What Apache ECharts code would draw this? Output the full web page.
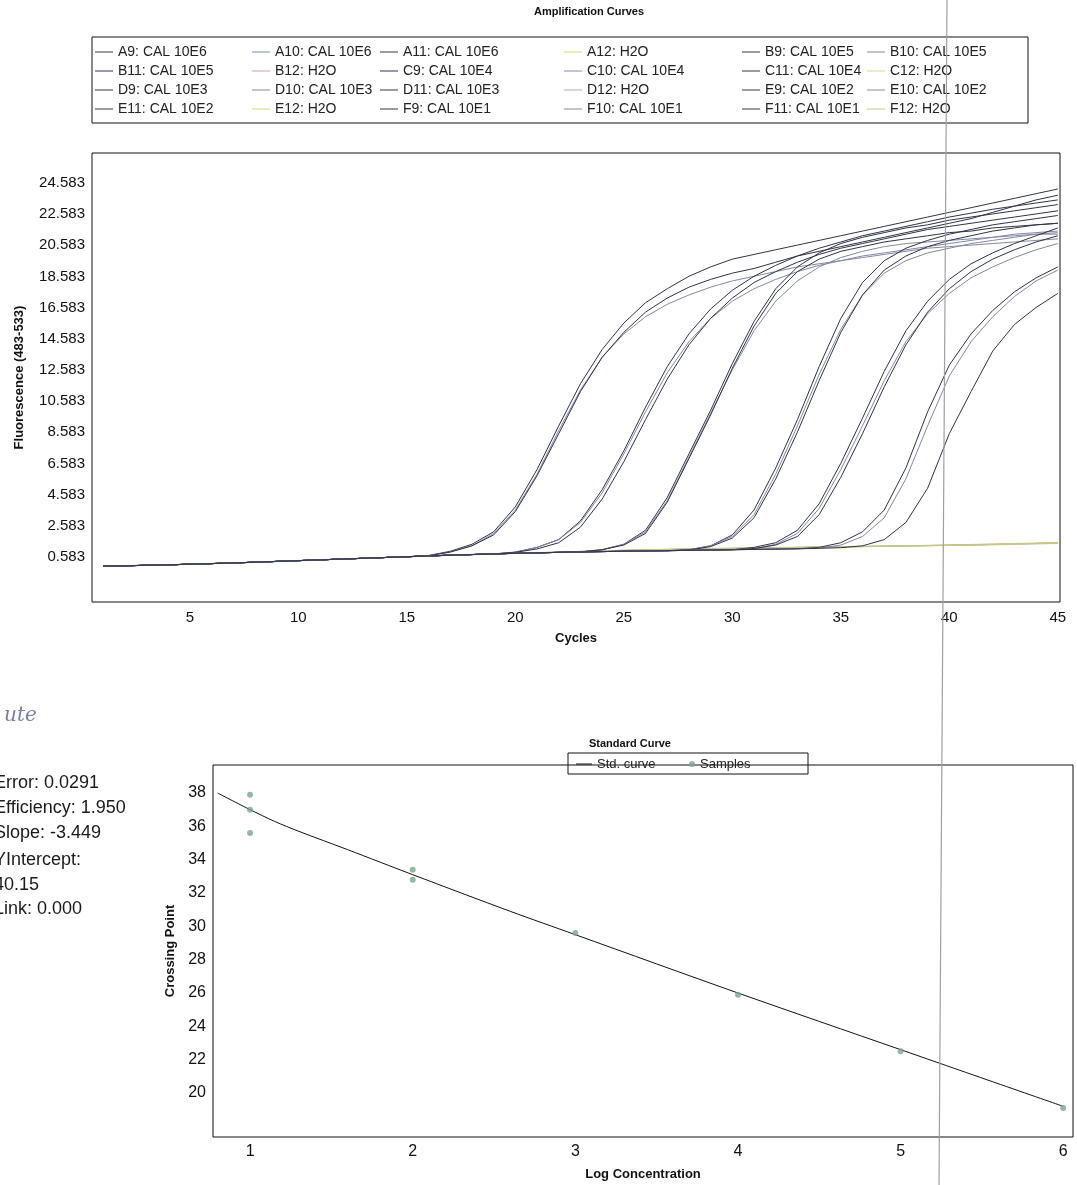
<!DOCTYPE html>
<html>
<head>
<meta charset="utf-8">
<title>Amplification Curves / Standard Curve</title>
<script src="https://cdn.jsdelivr.net/npm/echarts@6/dist/echarts.min.js"></script>
<style>
    html, body { margin: 0; padding: 0; background: #fff; }
    #chart { width: 1077px; height: 1185px; }
</style>
</head>
<body>
<div id="chart"></div>
<script>
// ---- amplification data (fluorescence 483-533 per cycle) ----
var cycles = [1,2,3,4,5,6,7,8,9,10,11,12,13,14,15,16,17,18,19,20,21,22,23,24,25,26,27,28,29,30,31,32,33,34,35,36,37,38,39,40,41,42,43,44,45];

var A9  = [0.00,0.02,0.05,0.08,0.12, 0.16,0.20,0.25,0.30,0.35, 0.40,0.45,0.50,0.55,0.60, 0.68,0.95,1.40,2.20,3.80, 6.20,9.00,11.70,13.90,15.60, 16.90,17.80,18.60,19.20,19.70, 20.00,20.30,20.60,20.90,21.20, 21.50,21.80,22.10,22.40,22.70, 23.00,23.30,23.60,23.90,24.20];
var A10 = [0.00,0.02,0.05,0.08,0.12, 0.16,0.20,0.25,0.30,0.35, 0.40,0.45,0.50,0.55,0.60, 0.66,0.90,1.30,2.10,3.60, 5.90,8.70,11.30,13.40,14.90, 16.00,16.80,17.40,17.90,18.30, 18.60,18.90,19.20,19.40,19.60, 19.80,20.00,20.20,20.40,20.50, 20.60,20.70,20.80,20.90,21.00];
var A11 = [0.00,0.02,0.05,0.08,0.12, 0.16,0.20,0.25,0.30,0.35, 0.40,0.45,0.50,0.55,0.60, 0.66,0.90,1.30,2.00,3.50, 5.80,8.50,11.20,13.40,15.00, 16.30,17.20,17.90,18.40,18.80, 19.10,19.50,19.90,20.20,20.50, 20.80,21.10,21.40,21.70,22.00, 22.30,22.70,23.10,23.50,23.80];
var A12 = [0.00,0.03,0.05,0.09,0.12, 0.17,0.21,0.25,0.31,0.35, 0.41,0.45,0.51,0.55,0.61, 0.65,0.71,0.74,0.79,0.82, 0.86,0.90,0.94,0.98,1.02, 1.05,1.08,1.10,1.13,1.15, 1.17,1.19,1.21,1.23,1.25, 1.27,1.29,1.31,1.33,1.36, 1.39,1.42,1.45,1.48,1.52];

var B9  = [0.00,0.02,0.05,0.08,0.12, 0.16,0.20,0.25,0.30,0.35, 0.40,0.45,0.50,0.55,0.60, 0.65,0.70,0.74,0.78,0.90, 1.20,1.70,2.90,4.90,7.40, 10.20,12.80,14.90,16.50,17.70, 18.60,19.30,19.90,20.40,20.80, 21.20,21.50,21.80,22.10,22.40, 22.65,22.90,23.10,23.30,23.50];
var B10 = [0.00,0.02,0.05,0.08,0.12, 0.16,0.20,0.25,0.30,0.35, 0.40,0.45,0.50,0.55,0.60, 0.65,0.70,0.74,0.78,0.88, 1.20,1.70,2.80,4.70,7.20, 9.90,12.40,14.40,15.90,17.00, 17.80,18.40,18.90,19.30,19.60, 19.90,20.10,20.30,20.50,20.70, 20.90,21.10,21.30,21.40,21.50];
var B11 = [0.00,0.02,0.05,0.08,0.12, 0.16,0.20,0.25,0.30,0.35, 0.40,0.45,0.50,0.55,0.60, 0.65,0.70,0.74,0.78,0.88, 1.10,1.50,2.50,4.30,6.70, 9.40,12.00,14.20,15.90,17.20, 18.20,18.90,19.50,20.00,20.40, 20.70,21.00,21.30,21.60,21.80, 22.00,22.20,22.40,22.60,22.80];
var B12 = [0.01,0.02,0.06,0.08,0.13, 0.16,0.21,0.25,0.29,0.35, 0.39,0.45,0.49,0.55,0.59, 0.65,0.69,0.74,0.77,0.82, 0.85,0.89,0.93,0.97,1.00, 1.03,1.06,1.09,1.11,1.13, 1.15,1.17,1.19,1.21,1.23, 1.25,1.27,1.29,1.31,1.33, 1.35,1.38,1.41,1.44,1.47];

var C9  = [0.00,0.02,0.05,0.08,0.12, 0.16,0.20,0.25,0.30,0.35, 0.40,0.45,0.50,0.55,0.60, 0.65,0.70,0.74,0.78,0.82, 0.85,0.88,0.91,1.05,1.40, 2.30,4.40,7.20,10.00,13.00, 15.70,17.80,19.20,20.10,20.70, 21.10,21.40,21.70,21.90,22.20, 22.40,22.60,22.80,23.00,23.20];
var C10 = [0.00,0.02,0.05,0.08,0.12, 0.16,0.20,0.25,0.30,0.35, 0.40,0.45,0.50,0.55,0.60, 0.65,0.70,0.74,0.78,0.82, 0.85,0.88,0.91,1.05,1.40, 2.20,4.20,7.00,9.80,12.60, 15.10,17.00,18.30,19.20,19.80, 20.20,20.50,20.70,20.80,20.90, 21.00,21.10,21.20,21.30,21.30];
var C11 = [0.00,0.02,0.05,0.08,0.12, 0.16,0.20,0.25,0.30,0.35, 0.40,0.45,0.50,0.55,0.60, 0.65,0.70,0.74,0.78,0.82, 0.85,0.88,0.91,1.05,1.35, 2.10,4.10,6.90,9.70,12.70, 15.40,17.50,18.90,19.70,20.20, 20.50,20.80,21.00,21.20,21.40, 21.50,21.70,21.80,21.90,22.00];
var C12 = [0.00,0.02,0.04,0.08,0.11, 0.16,0.19,0.25,0.29,0.35, 0.39,0.45,0.49,0.55,0.59, 0.64,0.69,0.73,0.77,0.81, 0.85,0.89,0.92,0.96,0.99, 1.02,1.05,1.08,1.10,1.12, 1.14,1.16,1.18,1.20,1.22, 1.24,1.26,1.28,1.30,1.32, 1.34,1.36,1.39,1.42,1.45];

var D9  = [0.00,0.02,0.05,0.08,0.12, 0.16,0.20,0.25,0.30,0.35, 0.40,0.45,0.50,0.55,0.60, 0.65,0.70,0.74,0.78,0.82, 0.85,0.88,0.91,0.93,0.95, 0.97,0.99,1.05,1.30,2.00, 3.60,6.30,9.40,12.80,15.90, 18.20,19.60,20.40,20.90,21.30, 21.60,21.90,22.10,22.30,22.50];
var D10 = [0.00,0.02,0.05,0.08,0.12, 0.16,0.20,0.25,0.30,0.35, 0.40,0.45,0.50,0.55,0.60, 0.65,0.70,0.74,0.78,0.82, 0.85,0.88,0.91,0.93,0.95, 0.97,0.99,1.04,1.30,1.90, 3.30,5.90,9.00,12.30,15.20, 17.40,18.80,19.60,20.10,20.40, 20.70,20.90,21.10,21.30,21.40];
var D11 = [0.00,0.02,0.05,0.08,0.12, 0.16,0.20,0.25,0.30,0.35, 0.40,0.45,0.50,0.55,0.60, 0.65,0.70,0.74,0.78,0.82, 0.85,0.88,0.91,0.93,0.95, 0.97,0.99,1.03,1.25,1.80, 3.10,5.60,8.60,11.90,15.00, 17.40,19.00,19.90,20.50,20.90, 21.20,21.50,21.70,21.90,22.00];
var D12 = [0.01,0.03,0.05,0.09,0.12, 0.17,0.20,0.26,0.30,0.36, 0.40,0.46,0.50,0.56,0.60, 0.66,0.70,0.75,0.78,0.83, 0.86,0.90,0.94,0.98,1.01, 1.04,1.07,1.10,1.12,1.14, 1.16,1.18,1.20,1.22,1.24, 1.26,1.28,1.30,1.32,1.34, 1.36,1.39,1.42,1.45,1.49];

var E9  = [0.00,0.02,0.05,0.08,0.12, 0.16,0.20,0.25,0.30,0.35, 0.40,0.45,0.50,0.55,0.60, 0.65,0.70,0.74,0.78,0.82, 0.85,0.88,0.91,0.93,0.95, 0.97,0.99,1.01,1.03,1.05, 1.20,1.50,2.30,4.00,6.60, 9.50,12.50,15.10,17.00,18.40, 19.40,20.10,20.70,21.20,21.70];
var E10 = [0.00,0.02,0.05,0.08,0.12, 0.16,0.20,0.25,0.30,0.35, 0.40,0.45,0.50,0.55,0.60, 0.65,0.70,0.74,0.78,0.82, 0.85,0.88,0.91,0.93,0.95, 0.97,0.99,1.01,1.03,1.05, 1.12,1.40,2.10,3.70,6.20, 9.00,11.90,14.40,16.20,17.50, 18.50,19.20,19.80,20.30,20.70];
var E11 = [0.00,0.02,0.05,0.08,0.12, 0.16,0.20,0.25,0.30,0.35, 0.40,0.45,0.50,0.55,0.60, 0.65,0.70,0.74,0.78,0.82, 0.85,0.88,0.91,0.93,0.95, 0.97,0.99,1.01,1.03,1.05, 1.12,1.35,1.90,3.30,5.70, 8.50,11.50,14.20,16.30,17.80, 18.90,19.70,20.30,20.80,21.20];
var E12 = [0.00,0.02,0.05,0.07,0.12, 0.15,0.20,0.24,0.30,0.34, 0.40,0.44,0.50,0.54,0.60, 0.64,0.70,0.73,0.78,0.81, 0.85,0.89,0.93,0.97,1.00, 1.03,1.06,1.09,1.11,1.13, 1.15,1.17,1.19,1.21,1.23, 1.25,1.27,1.29,1.31,1.33, 1.36,1.39,1.42,1.46,1.50];

var F9  = [0.00,0.02,0.05,0.08,0.12, 0.16,0.20,0.25,0.30,0.35, 0.40,0.45,0.50,0.55,0.60, 0.65,0.70,0.74,0.78,0.82, 0.85,0.88,0.91,0.93,0.95, 0.97,0.99,1.01,1.03,1.05, 1.07,1.09,1.11,1.20,1.50, 2.20,3.60,6.30,9.90,12.90, 14.90,16.40,17.60,18.50,19.20];
var F10 = [0.00,0.02,0.05,0.08,0.12, 0.16,0.20,0.25,0.30,0.35, 0.40,0.45,0.50,0.55,0.60, 0.65,0.70,0.74,0.78,0.82, 0.85,0.88,0.91,0.93,0.95, 0.97,0.99,1.01,1.03,1.05, 1.07,1.09,1.11,1.15,1.35, 1.90,3.10,5.60,9.00,12.20, 14.40,16.00,17.30,18.30,19.00];
var F11 = [0.00,0.02,0.05,0.08,0.12, 0.16,0.20,0.25,0.30,0.35, 0.40,0.45,0.50,0.55,0.60, 0.65,0.70,0.74,0.78,0.82, 0.85,0.88,0.91,0.93,0.95, 0.97,0.99,1.01,1.03,1.05, 1.07,1.09,1.11,1.14,1.18, 1.30,1.70,2.80,5.00,8.50, 11.20,13.80,15.50,16.60,17.50];
var F12 = [0.01,0.02,0.05,0.08,0.12, 0.16,0.21,0.25,0.30,0.35, 0.41,0.45,0.50,0.55,0.61, 0.65,0.70,0.75,0.78,0.83, 0.86,0.90,0.94,0.97,1.01, 1.04,1.07,1.09,1.12,1.14, 1.16,1.18,1.20,1.22,1.24, 1.26,1.28,1.30,1.32,1.35, 1.38,1.40,1.43,1.46,1.50];

var sampleNames = [
    'A9: CAL 10E6', 'A10: CAL 10E6', 'A11: CAL 10E6', 'A12: H2O', 'B9: CAL 10E5', 'B10: CAL 10E5',
    'B11: CAL 10E5', 'B12: H2O', 'C9: CAL 10E4', 'C10: CAL 10E4', 'C11: CAL 10E4', 'C12: H2O',
    'D9: CAL 10E3', 'D10: CAL 10E3', 'D11: CAL 10E3', 'D12: H2O', 'E9: CAL 10E2', 'E10: CAL 10E2',
    'E11: CAL 10E2', 'E12: H2O', 'F9: CAL 10E1', 'F10: CAL 10E1', 'F11: CAL 10E1', 'F12: H2O'
];
var sampleValues = [A9, A10, A11, A12, B9, B10, B11, B12, C9, C10, C11, C12,
                    D9, D10, D11, D12, E9, E10, E11, E12, F9, F10, F11, F12];

var cycleTicks = [5, 10, 15, 20, 25, 30, 35, 40, 45];
var fluorTicks = [0.583, 2.583, 4.583, 6.583, 8.583, 10.583, 12.583, 14.583, 16.583, 18.583, 20.583, 22.583, 24.583];

// ---- standard curve data ----
var stdLogConc = [0.8, 1.0, 1.15, 1.3, 1.6, 2.0, 2.6, 3.0, 4.0, 5.0, 6.0];
var stdCp      = [38.0, 37.0, 36.3, 35.7, 34.6, 33.1, 30.9, 29.5, 26.0, 22.6, 19.2];
var sampleLogConc = [1, 1, 1, 2, 2, 3, 4, 5, 6];
var sampleCp      = [37.9, 37.0, 35.6, 33.4, 32.8, 29.6, 25.9, 22.5, 19.1];
var logTicks = [1, 2, 3, 4, 5, 6];
var cpTicks = [20, 22, 24, 26, 28, 30, 32, 34, 36, 38];

var statLines = ['Error: 0.0291', 'Efficiency: 1.950', 'Slope: -3.449', 'YIntercept:', '40.15', 'Link: 0.000'];

// ---- styling ----
var FONT = '"Liberation Sans", Arial, sans-serif';
var DARK = '#30344a';
var LIGHT = '#8389a4';
var waterColors = ['#d3d67a', '#c8a0a6', '#d8da8c', '#c7a29e', '#cdd47c', '#c2c78c'];

function colorFor(i) {
    if (i % 4 === 3) return waterColors[Math.floor(i / 4)];
    return (i % 4 === 1) ? LIGHT : DARK;
}

var chart = echarts.init(document.getElementById('chart'));

var series = sampleNames.map(function (name, i) {
    return {
        name: name,
        type: 'line',
        xAxisIndex: 0,
        yAxisIndex: 0,
        symbol: 'none',
        z: (i % 4 === 3) ? 1 : 2,
        lineStyle: { width: 1, color: colorFor(i) },
        itemStyle: { color: colorFor(i) },
        data: cycles.map(function (c, k) { return [c, sampleValues[i][k]]; })
    };
});

series.push({
    name: 'Std. curve',
    type: 'line',
    xAxisIndex: 1,
    yAxisIndex: 1,
    symbol: 'none',
    smooth: 0.3,
    lineStyle: { width: 1, color: '#111' },
    itemStyle: { color: '#111' },
    data: stdLogConc.map(function (x, k) { return [x, stdCp[k]]; })
});
series.push({
    name: 'Samples',
    type: 'scatter',
    xAxisIndex: 1,
    yAxisIndex: 1,
    symbolSize: 6,
    itemStyle: { color: '#7aa68b' },
    z: 3,
    data: sampleLogConc.map(function (x, k) { return [x, sampleCp[k]]; })
});

// the amplification legend is six columns of four rows
var colLeft = [95, 252, 380, 564, 742, 867];
var legends = colLeft.map(function (left, col) {
    return {
        data: sampleNames.filter(function (n, i) { return i % 6 === col; }),
        orient: 'vertical',
        left: left,
        top: 44,
        icon: 'rect',
        itemWidth: 18,
        itemHeight: 1,
        itemGap: 3,
        padding: 0,
        selectedMode: false,
        textStyle: { fontSize: 14, lineHeight: 16, color: '#222', fontFamily: FONT }
    };
});
// standard curve legend: a line key and a dot key inside one box
legends.push({
    data: ['Std. curve'],
    left: 576, top: 757, padding: 0,
    icon: 'rect', itemWidth: 16, itemHeight: 1,
    selectedMode: false,
    textStyle: { fontSize: 13, lineHeight: 14, color: '#222', fontFamily: FONT }
});
legends.push({
    data: ['Samples'],
    left: 689, top: 757, padding: 0,
    icon: 'circle', itemWidth: 6, itemHeight: 6,
    selectedMode: false,
    textStyle: { fontSize: 13, lineHeight: 14, color: '#222', fontFamily: FONT }
});

var labelStyle = { color: '#111', fontFamily: FONT };
var nameStyle = { fontSize: 13, fontWeight: 'bold', color: '#111', fontFamily: FONT };

var option = {
    animation: false,
    backgroundColor: '#fff',
    title: [
        { text: 'Amplification Curves', left: 534, top: 6, padding: 0,
          textStyle: { fontSize: 11, fontWeight: 'bold', color: '#111', fontFamily: FONT } },
        { text: 'Standard Curve', left: 589, top: 738, padding: 0,
          textStyle: { fontSize: 11, fontWeight: 'bold', color: '#111', fontFamily: FONT } }
    ],
    legend: legends,
    grid: [
        { left: 92, top: 153, width: 968, height: 449, show: true, borderColor: '#111', borderWidth: 1, backgroundColor: 'transparent' },
        { left: 213, top: 765, width: 860, height: 372, show: true, borderColor: '#111', borderWidth: 1, backgroundColor: 'transparent' }
    ],
    xAxis: [
        {
            type: 'value', gridIndex: 0, min: 0.49, max: 45.1,
            axisLine: { show: false }, axisTick: { show: false }, splitLine: { show: false },
            axisLabel: Object.assign({ customValues: cycleTicks, fontSize: 15, margin: 8 }, labelStyle),
            name: 'Cycles', nameLocation: 'middle', nameGap: 30, nameTextStyle: nameStyle
        },
        {
            type: 'value', gridIndex: 1, min: 0.772, max: 6.06,
            axisLine: { show: false }, axisTick: { show: false }, splitLine: { show: false },
            axisLabel: Object.assign({ customValues: logTicks, fontSize: 16, margin: 7 }, labelStyle),
            name: 'Log Concentration', nameLocation: 'middle', nameGap: 31, nameTextStyle: nameStyle
        }
    ],
    yAxis: [
        {
            type: 'value', gridIndex: 0, min: -2.305, max: 26.51,
            axisLine: { show: false }, axisTick: { show: false }, splitLine: { show: false },
            axisLabel: Object.assign({
                customValues: fluorTicks, fontSize: 15, margin: 7,
                formatter: function (v) { return v.toFixed(3); }
            }, labelStyle),
            name: 'Fluorescence (483-533)', nameLocation: 'middle', nameGap: 66, nameTextStyle: nameStyle
        },
        {
            type: 'value', gridIndex: 1, min: 17.36, max: 39.68,
            axisLine: { show: false }, axisTick: { show: false }, splitLine: { show: false },
            axisLabel: Object.assign({ customValues: cpTicks, fontSize: 16, margin: 7 }, labelStyle),
            name: 'Crossing Point', nameLocation: 'middle', nameGap: 31, nameTextStyle: nameStyle
        }
    ],
    graphic: [
        { type: 'rect', shape: { x: 92, y: 37, width: 936, height: 86 },
          style: { fill: 'none', stroke: '#111', lineWidth: 1 } },
        { type: 'rect', shape: { x: 568, y: 753, width: 240, height: 21 },
          style: { fill: 'none', stroke: '#111', lineWidth: 1 } },
        { type: 'text', left: 4, top: 706,
          style: { text: 'ute', font: 'italic 20px "DejaVu Serif", serif', fill: '#4b5680', opacity: 0.75 } }
    ].concat(statLines.map(function (s, k) {
        var ys = [783, 808, 833, 860, 885, 909];
        return { type: 'text', x: -6, y: ys[k],
                 style: { text: s, font: '18px ' + FONT, fill: '#1a1a1a', textVerticalAlign: 'middle' } };
    })).concat([
        { type: 'line', z: 100, shape: { x1: 947, y1: 0, x2: 939, y2: 1185 },
          style: { stroke: '#a0a0a0', lineWidth: 1.2 } }
    ]),
    series: series
};

chart.setOption(option);
</script>
</body>
</html>
